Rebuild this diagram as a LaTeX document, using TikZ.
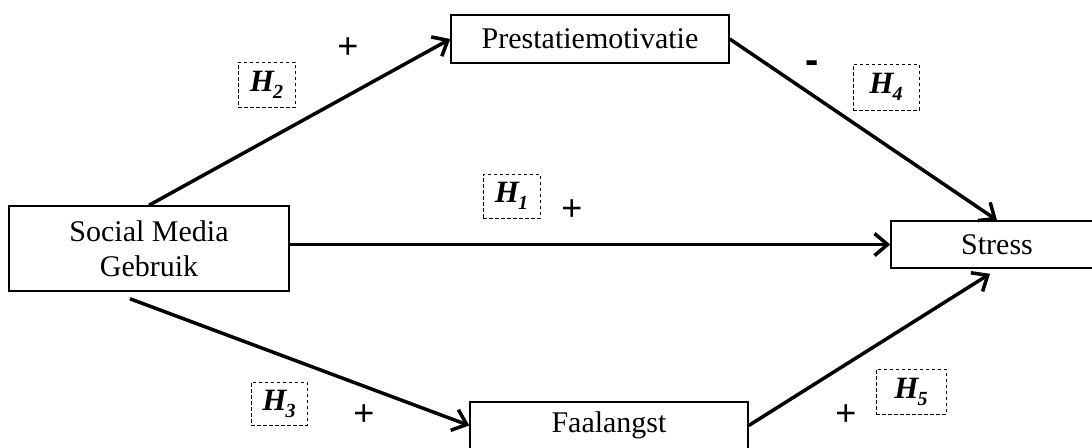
\documentclass[tikz,border=0pt]{standalone}
\usepackage{fontspec}
\setmainfont{Liberation Serif}
\newfontfamily\signfont{Liberation Sans}
\usetikzlibrary{arrows.meta}
\newcommand{\hlab}[1]{\textbf{\textit{H}}\kern-1.5pt\raisebox{-7pt}{\fontsize{20}{20}\selectfont\textbf{\textit{#1}}}}
\begin{document}
\begin{tikzpicture}[x=1pt,y=-1pt,
  box/.style={draw, line width=1.5pt, rectangle, inner sep=0pt, font=\fontsize{30}{35}\selectfont, align=center},
  hbox/.style={draw, line width=1pt, dash pattern=on 3.5pt off 2.5pt, inner sep=0pt, font=\fontsize{31}{31}\selectfont},
  sign/.style={font=\signfont\fontsize{36}{36}\selectfont, inner sep=0pt},
  minus/.style={font=\signfont\bfseries\fontsize{40}{40}\selectfont, inner sep=0pt},
  arr/.style={line width=3.5pt, -{Straight Barb[length=13pt,width=22pt]}}]
\clip (0,0) rectangle (1092,447);
\fill[white] (0,0) rectangle (1092,447);

% boxes
\node[box, minimum width=280pt, minimum height=85pt] (smg) at (149,248.5) {Social Media\\Gebruik};
\node[box, minimum width=278pt, minimum height=48pt] (prest) at (590,39) {Prestatiemotivatie};
\node[box, minimum width=212pt, minimum height=47pt] (stress) at (997,244.5) {Stress};
\node[box, minimum width=278pt, minimum height=47pt] (faal) at (609,425.5) {Faalangst};

% connectors
\draw[arr] (smg.north) -- (prest.west);
\draw[arr] (smg.east |- stress.west) -- (stress.west);
\draw[arr] (prest.east) -- (stress.north);
\draw[arr] ([xshift=-19pt,yshift=-7pt]smg.south) -- (faal.west);
\draw[arr] (faal.east) -- ([xshift=-7pt,yshift=-5pt]stress.south);

% hypothesis labels
\node[hbox, minimum width=57pt, minimum height=45pt] (h2) at (266.5,84.5) {\hlab{2}};
\node[hbox, minimum width=66pt, minimum height=46pt] (h4) at (886,87) {\hlab{4}};
\node[hbox, minimum width=57pt, minimum height=44pt] (h1) at (511.5,196) {\hlab{1}};
\node[hbox, minimum width=56pt, minimum height=43pt] (h3) at (279,403.5) {\hlab{3}};
\node[hbox, minimum width=70pt, minimum height=45pt] (h5) at (911,391.5) {\hlab{5}};

% signs
\node[sign] (s2) at (348,48) {+};
\node[sign] (s1) at (572,210) {+};
\node[sign] (s3) at (364,415) {+};
\node[sign] (s5) at (846,415) {+};
\node[minus] (s4) at (812,67) {-};
\end{tikzpicture}
\end{document}
